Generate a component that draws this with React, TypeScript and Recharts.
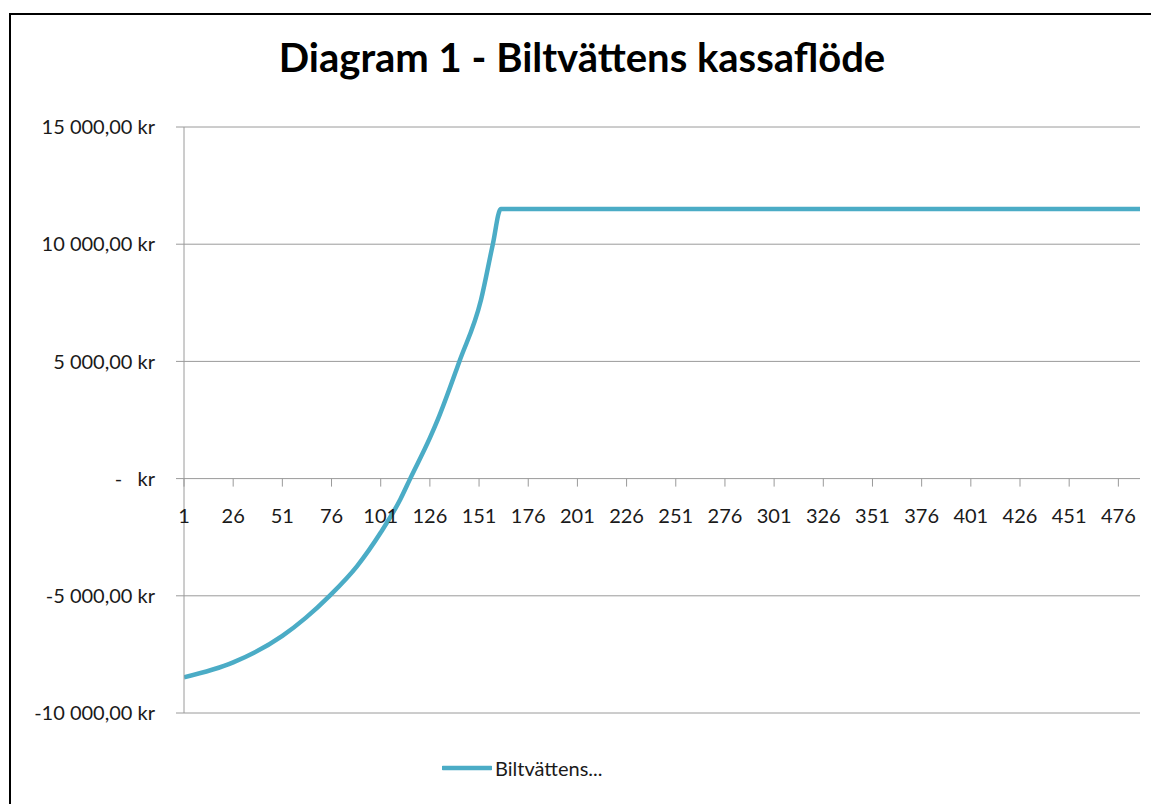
import React from "react";
import { LineChart, Line, XAxis, YAxis, CartesianGrid, Legend } from "recharts";

// ---- data ----
const periods = [1, 26, 51, 63, 75, 89, 101, 111, 116, 126, 130, 141, 152, 158, 162, 487];
const cashFlow = [-8480, -7840, -6710, -5930, -5000, -3730, -2300, -880, 0, 1735, 2515, 5000, 7630, 10000, 11500, 11500];
const xTicks = [1, 26, 51, 76, 101, 126, 151, 176, 201, 226, 251, 276, 301, 326, 351, 376, 401, 426, 451, 476];
const yTicks = [-10000, -5000, 0, 5000, 10000, 15000];
const seriesName = "Biltvättens...";
const title = "Diagram 1 - Biltvättens kassaflöde";

const data = periods.map((p, i) => ({ period: p, value: cashFlow[i] }));

// ---- layout / style ----
const W = 1151;
const H = 804;
const MARGIN = { top: 127, right: 11, bottom: 61, left: 0 };
const X_AXIS_H = 30;
const Y_MIN = -10000;
const Y_MAX = 15000;
const PLOT_H = H - MARGIN.top - MARGIN.bottom - X_AXIS_H;
const ZERO_Y = MARGIN.top + (PLOT_H * Y_MAX) / (Y_MAX - Y_MIN);
const GRID = "#9a9a9a";
const LINE = "#4BACC6";
const FONT = "Lato, 'Open Sans', sans-serif";
const FS = 20;
const TXT = "#1a1a1a";

const fmt = (v: number) => {
  if (v === 0) return "-   kr";
  const abs = Math.abs(v);
  const int = String(Math.floor(abs)).replace(/\B(?=(\d{3})+(?!\d))/g, " ");
  return (v < 0 ? "-" : "") + int + ",00 kr";
};

const YTick = (props: any) => {
  const { x, y, payload } = props;
  return (
    <text
      x={x}
      y={y + FS * 0.36}
      textAnchor="end"
      fontFamily={FONT}
      fontSize={FS}
      fill={TXT}
      style={{ whiteSpace: "pre" }}
    >
      {fmt(payload.value)}
    </text>
  );
};

const XTick = (props: any) => {
  const { x, payload } = props;
  return (
    <g>
      <line x1={x} x2={x} y1={ZERO_Y} y2={ZERO_Y + 8} stroke={GRID} strokeWidth={1} />
      <text x={x} y={ZERO_Y + 44} textAnchor="middle" fontFamily={FONT} fontSize={FS} fill={TXT}>
        {payload.value}
      </text>
    </g>
  );
};

const LegendContent = (props: any) => {
  const item = (props.payload || [])[0];
  if (!item) return null;
  return (
    <div style={{ display: "flex", alignItems: "center", fontFamily: FONT, fontSize: FS, color: TXT }}>
      <svg width={50} height={10} style={{ display: "block" }}>
        <line x1={1} x2={49} y1={5} y2={5} stroke={item.color} strokeWidth={4.5} strokeLinecap="round" />
      </svg>
      <span style={{ marginLeft: 3, whiteSpace: "nowrap" }}>{item.value}</span>
    </div>
  );
};

export default function App() {
  return (
    <div style={{ position: "absolute", left: 0, top: 0, width: W, height: H, overflow: "hidden", background: "#fff" }}>
      <div
        style={{
          position: "absolute",
          left: 9,
          top: 13,
          width: 1200,
          height: 900,
          borderLeft: "2px solid #000",
          borderTop: "2px solid #000",
        }}
      />
      <div
        style={{
          position: "absolute",
          left: 0,
          width: 1164,
          top: 33,
          textAlign: "center",
          fontFamily: FONT,
          fontWeight: 700,
          fontSize: 40,
          lineHeight: "48px",
          color: "#000",
          whiteSpace: "nowrap",
        }}
      >
        {title}
      </div>
      <div style={{ position: "absolute", left: 0, top: 0 }}>
        <LineChart width={W} height={H} data={data} margin={MARGIN}>
          <CartesianGrid vertical={false} stroke={GRID} strokeWidth={1} />
          <XAxis
            dataKey="period"
            type="number"
            domain={[1, 487]}
            ticks={xTicks}
            interval={0}
            axisLine={false}
            tickLine={false}
            tick={<XTick />}
            height={X_AXIS_H}
            allowDataOverflow
          />
          <YAxis
            type="number"
            domain={[Y_MIN, Y_MAX]}
            ticks={yTicks}
            interval={0}
            width={184}
            tickSize={8}
            tickMargin={21}
            axisLine={{ stroke: GRID }}
            tickLine={{ stroke: GRID }}
            tick={<YTick />}
            allowDataOverflow
          />
          <Legend
            layout="horizontal"
            align="center"
            verticalAlign="middle"
            wrapperStyle={{ left: 442, top: 756, width: 300 }}
            content={<LegendContent />}
          />
          <Line
            type="monotone"
            dataKey="value"
            name={seriesName}
            stroke={LINE}
            strokeWidth={4.5}
            dot={false}
            activeDot={false}
            isAnimationActive={false}
          />
        </LineChart>
      </div>
    </div>
  );
}
